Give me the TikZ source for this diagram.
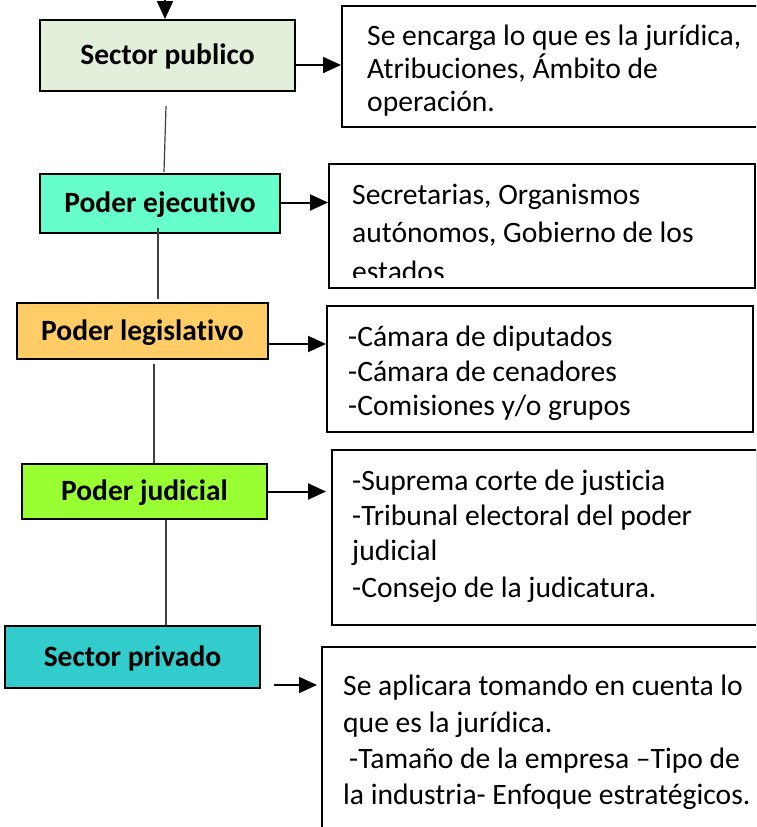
\documentclass[tikz,border=0pt]{standalone}
\usepackage{fontspec}
\setmainfont{Carlito}[RawFeature={-liga;-clig}]
\usetikzlibrary{arrows.meta}
\definecolor{cA}{HTML}{E2EFDA}
\definecolor{cB}{HTML}{66FFCC}
\definecolor{cC}{HTML}{FFCC66}
\definecolor{cD}{HTML}{99FF33}
\definecolor{cE}{HTML}{33CCCC}
\definecolor{lgray}{HTML}{404040}
\begin{document}
\begin{tikzpicture}[x=1pt,y=-1pt,
  lbl/.style={draw=black, line width=2pt, inner sep=0pt, font=\fontsize{29.5}{33}\selectfont\bfseries, text height=18.5pt, text depth=0pt},
  rbox/.style={draw=black, line width=2pt, inner sep=0pt},
  txt/.style={anchor=base west, inner sep=0pt, font=\fontsize{29.6}{33}\selectfont},
  arr/.style={line width=2pt, -{Triangle[length=18pt,width=16pt]}},
  vline/.style={line width=1.2pt, draw=lgray}]
\clip (0,0) rectangle (756,827);
\fill[white] (0,0) rectangle (756,827);

% left boxes
\node[lbl, fill=cA, minimum width=255pt, minimum height=71pt] (A) at (167.5,55.5) {Sector publico};
\node[lbl, fill=cB, minimum width=240pt, minimum height=59pt] (B) at (160,203.5) {Poder ejecutivo};
\node[lbl, fill=cC, minimum width=251pt, minimum height=56pt] (C) at (142.5,331) {Poder legislativo};
\node[lbl, fill=cD, minimum width=245pt, minimum height=55pt] (D) at (144.5,491.5) {Poder judicial};
\node[lbl, fill=cE, minimum width=255pt, minimum height=62pt] (E) at (132.5,657) {Sector privado};

% right boxes
\node[rbox, minimum width=418pt, minimum height=121pt] (R1) at (551,66.5) {};
\node[rbox, minimum width=426pt, minimum height=124pt] (R2) at (542,226) {};
\node[rbox, minimum width=426pt, minimum height=126pt] (R3) at (540,369) {};
\node[rbox, minimum width=425pt, minimum height=175pt] (R4) at (544.5,537.5) {};
\node[rbox, minimum width=443pt, minimum height=193pt] (R5) at (543.5,743.5) {};

% texts
\begin{scope}
\clip (345,10) rectangle (760,119);
\node[txt] (t11) at (367,45) {Se encarga lo que es la jurídica,};
\node[txt] (t12) at (367,78) {Atribuciones, Ámbito de};
\node[txt] (t13) at (367,111) {operación.};
\end{scope}
\begin{scope}
\clip (332,168) rectangle (752,277);
\node[txt] (t21) at (352,204) {Secretarias, Organismos};
\node[txt] (t22) at (352,242) {autónomos, Gobierno de los};
\node[txt] (t23) at (352,281) {estados};
\end{scope}
\begin{scope}
\clip (330,309) rectangle (750,421);
\node[txt] (t31) at (348,346) {-Cámara de diputados};
\node[txt] (t32) at (348,381) {-Cámara de cenadores};
\node[txt] (t33) at (348,415) {-Comisiones y/o grupos};
\end{scope}
\node[txt] (t41) at (352,490) {-Suprema corte de justicia};
\node[txt] (t42) at (352,525) {-Tribunal electoral del poder};
\node[txt] (t43) at (352,560) {judicial};
\node[txt] (t44) at (352,597) {-Consejo de la judicatura.};
\node[txt] (t51) at (343,695) {Se aplicara tomando en cuenta lo};
\node[txt] (t52) at (343,732) {que es la jurídica.};
\node[txt] (t53) at (349,768) {-Tamaño de la empresa –Tipo de};
\node[txt] (t54) at (343,804) {la industria- Enfoque estratégicos.};

% top arrow
\coordinate (top) at (165,-5);
\draw[arr] (top) -- ([xshift=-2.5pt]A.north);

% arrows to right boxes
\draw[arr] ([yshift=-9.5pt]A.east) -- ([yshift=-9.5pt]A.east -| R1.west);
\draw[arr] ([yshift=1pt]B.east) -- ([yshift=1pt]B.east -| R2.west);
\draw[arr] ([yshift=-13pt]C.east) -- ([yshift=-13pt]C.east -| R3.west);
\draw[arr, shorten >=5pt] (D.east) -- (D.east -| R4.west);
\draw[arr, shorten <=13pt, shorten >=4pt] ([yshift=-28pt]E.east) -- ([yshift=-28pt]E.east -| R5.west);

% vertical lines
\draw[vline] ([xshift=-1.5pt,yshift=-14pt]A.south) -- ([xshift=4pt,yshift=1pt]B.north);
\draw[vline] ([xshift=-2pt,yshift=6pt]B.south) -- ([xshift=15.5pt,yshift=3pt]C.north);
\draw[vline] ([xshift=11.5pt,yshift=-4pt]C.south) -- ([xshift=9.5pt]D.north);
\draw[vline] ([xshift=21.5pt]D.south) -- ([xshift=33.5pt]E.north);
\end{tikzpicture}
\end{document}
